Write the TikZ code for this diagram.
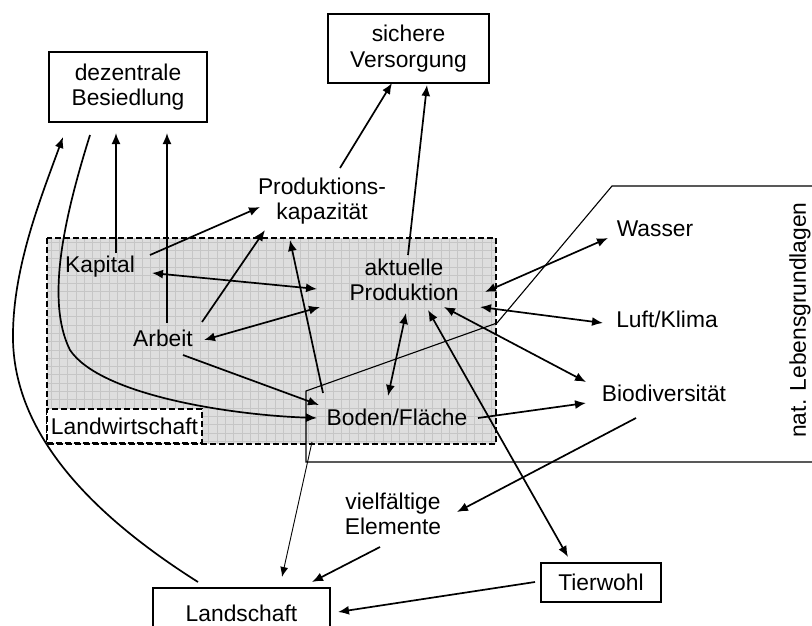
\documentclass[tikz,border=0pt]{standalone}
\usepackage{fontspec}
\setmainfont{Liberation Sans}
\usetikzlibrary{arrows.meta}
\definecolor{lwfill}{HTML}{DEDEDE}
\definecolor{gridc}{HTML}{C6C6C6}
\begin{document}
\begin{tikzpicture}[x=1pt,y=-1pt,
  lbl/.style={inner sep=0pt, align=center, font=\fontsize{22.8}{25.5}\selectfont},
  boxnode/.style={lbl, draw, line width=1.1pt},
  tip/.tip={Latex[length=11pt,width=9pt]},
  arr/.style={line width=1.7pt, -tip},
  darr/.style={line width=1.7pt, tip-tip},
  thinarr/.style={line width=0.9pt, -{Latex[length=10pt,width=8pt]}},
  gridline/.style={draw=gridc, line width=0.7pt},
]
\useasboundingbox (0,0) rectangle (812,626);
\begin{scope}
\clip (0,0) rectangle (812,626);
% Landwirtschaft region
\fill[fill=lwfill] (47,238) rectangle (496,444);
\foreach \gx in {51,59.3,...,496} {\draw[gridline] (\gx,238) -- (\gx,444);}
\foreach \gy in {242,250.3,...,444} {\draw[gridline] (47,\gy) -- (496,\gy);}
\draw[line width=1.1pt, dash pattern=on 6pt off 3pt] (47,238) rectangle (496,444);
\node[lbl, draw, fill=white, line width=1.1pt, dash pattern=on 6pt off 3pt,
      minimum width=155pt, minimum height=34pt] (lw) at (124.5,426) {Landwirtschaft};
% nat. Lebensgrundlagen outline
\draw[line width=1.1pt] (813,186) -- (612,186) -- (497,323) -- (306,391) -- (306,462) -- (813,462);
\node[lbl, rotate=90] (nat) at (800,320) {nat. Lebensgrundlagen};

% nodes
\node[boxnode, minimum width=158pt, minimum height=70pt] (dez) at (128,87) {dezentrale\\Besiedlung};
\node[boxnode, minimum width=161pt, minimum height=69pt] (sic) at (408.5,48.5) {sichere\\Versorgung};
\node[boxnode, minimum width=120pt, minimum height=39pt] (tie) at (601,582.5) {Tierwohl};
\node[boxnode, minimum width=177pt, minimum height=50pt] (lan) at (241.5,613) {Landschaft};
\node[lbl] (kap) at (100,267) {Kapital};
\node[lbl] (arb) at (163,338) {Arbeit};
\node[lbl] (pk) at (322,201) {Produktions-\\kapazität};
\node[lbl] (akt) at (404,280) {aktuelle\\Produktion};
\node[lbl] (bod) at (397,417) {Boden/Fläche};
\node[lbl] (was) at (655,229) {Wasser};
\node[lbl] (luf) at (667,319) {Luft/Klima};
\node[lbl] (bio) at (664,393) {Biodiversität};
\node[lbl] (vie) at (393,514) {vielfältige\\Elemente};

% connectors
\draw[arr] ([shift={(16,-14)}]kap.center) -- ([shift={(-12,46)}]dez.center);
\draw[arr] ([shift={(4,-15)}]arb.center) -- ([shift={(39,46)}]dez.center);
\draw[arr] ([shift={(-38,48)}]dez.center) .. controls (65,215) and (45,300) .. (70,350)
      .. controls (100,395) and (230,415) .. ([shift={(-80,1)}]bod.center);
\draw[arr] ([shift={(-43.5,-31)}]lan.center) .. controls (100,520) and (15,440) .. (13,340)
      .. controls (12,270) and (40,200) .. ([shift={(-65,50)}]dez.center);
\draw[arr] ([shift={(50,-12)}]kap.center) -- ([shift={(-62,6)}]pk.center);
\draw[darr] ([shift={(52,6)}]kap.center) -- ([shift={(-87,9)}]akt.center);
\draw[arr] ([shift={(39,-16)}]arb.center) -- ([shift={(-57,29)}]pk.center);
\draw[darr] ([shift={(41,2)}]arb.center) -- ([shift={(-84,27)}]akt.center);
\draw[arr] ([shift={(20,17)}]arb.center) -- ([shift={(-78,-12)}]bod.center);
\draw[arr] ([shift={(-74,-24)}]bod.center) -- ([shift={(-32,39)}]pk.center);
\draw[arr] ([shift={(4,-25)}]akt.center) -- ([shift={(18.5,36.5)}]sic.center);
\draw[arr] ([shift={(18,-33)}]pk.center) -- ([shift={(-16.5,34.5)}]sic.center);
\draw[darr] ([shift={(81,12)}]akt.center) -- ([shift={(-47,9)}]was.center);
\draw[darr] ([shift={(76,27)}]akt.center) -- ([shift={(-64,4)}]luf.center);
\draw[darr] ([shift={(40,27)}]akt.center) -- ([shift={(-78,-11)}]bio.center);
\draw[darr] ([shift={(2,33)}]akt.center) -- ([shift={(-9,-21)}]bod.center);
\draw[arr] ([shift={(81,1)}]bod.center) -- ([shift={(-78,10)}]bio.center);
\draw[arr] ([shift={(-28,25)}]bio.center) -- ([shift={(64,-2)}]vie.center);
\draw[darr] ([shift={(24,30)}]akt.center) -- ([shift={(-33,-25.5)}]tie.center);
\draw[thinarr] ([shift={(-85,25)}]bod.center) -- ([shift={(40.5,-36)}]lan.center);
\draw[arr] ([shift={(-13,33)}]vie.center) -- ([shift={(70.5,-31)}]lan.center);
\draw[arr] ([shift={(-66,-0.5)}]tie.center) -- ([shift={(96.5,-1)}]lan.center);
\end{scope}
\end{tikzpicture}
\end{document}
